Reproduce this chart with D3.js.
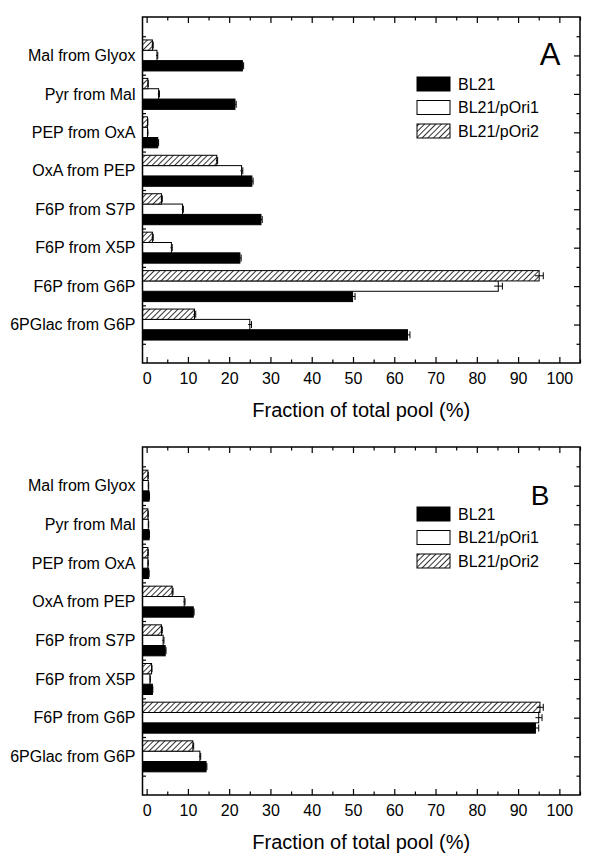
<!DOCTYPE html>
<meta charset="utf-8">
<style>
body { margin: 0; background: #fff; }
text { font-family: "Liberation Sans", Arial, sans-serif; fill: #000; }
.frame { fill: none; stroke: #000; stroke-width: 1.5px; }
.axis path { display: none; }
.axis line { stroke: #000; stroke-width: 1.2px; }
.axis text { font-size: 16px; }
.bar { stroke: #000; stroke-width: 1px; }
.err { stroke: #000; stroke-width: 1px; fill: none; }
</style>
<svg width="600" height="863"></svg>
<script src="https://d3js.org/d3.v7.min.js"></script>
<script>
// categories, top to bottom
var categories = ["Mal from Glyox", "Pyr from Mal", "PEP from OxA", "OxA from PEP",
                  "F6P from S7P", "F6P from X5P", "F6P from G6P", "6PGlac from G6P"];
var strains = ["BL21", "BL21/pOri1", "BL21/pOri2"];
var xTicks = [0, 10, 20, 30, 40, 50, 60, 70, 80, 90, 100];
var xMinor = [5, 15, 25, 35, 45, 55, 65, 75, 85, 95, 105];

// panel A values (%)
var aBL21  = [23.2, 21.4, 2.7, 25.5, 27.7, 22.6, 49.9, 63.2];
var aPOri1 = [2.5, 2.9, 0.2, 23.0, 8.7, 6.0, 85.2, 25.0];
var aPOri2 = [1.4, 0.3, 0.2, 17.0, 3.6, 1.4, 95.1, 11.6];
var aErrBL21  = [0.3, 0.3, 0.2, 0.3, 0.3, 0.3, 0.6, 0.6];
var aErrPOri1 = [0.2, 0.2, 0.1, 0.3, 0.2, 0.2, 1.0, 0.4];
var aErrPOri2 = [0.2, 0.1, 0.1, 0.2, 0.2, 0.2, 1.0, 0.3];

// panel B values (%)
var bBL21  = [0.6, 0.6, 0.5, 11.3, 4.5, 1.4, 94.2, 14.4];
var bPOri1 = [0.4, 0.4, 0.3, 9.1, 4.0, 0.8, 95.0, 12.9];
var bPOri2 = [0.3, 0.3, 0.3, 6.2, 3.6, 1.2, 95.3, 11.2];
var bErrBL21  = [0.1, 0.1, 0.1, 0.2, 0.2, 0.1, 0.8, 0.2];
var bErrPOri1 = [0.1, 0.1, 0.1, 0.2, 0.2, 0.1, 0.8, 0.2];
var bErrPOri2 = [0.1, 0.1, 0.1, 0.2, 0.2, 0.1, 0.8, 0.2];

var svg = d3.select("svg");

var defs = svg.append("defs");
var pat = defs.append("pattern")
    .attr("id", "hatch")
    .attr("patternUnits", "userSpaceOnUse")
    .attr("width", 4)
    .attr("height", 4)
    .attr("patternTransform", "rotate(45)");
pat.append("rect").attr("width", 4).attr("height", 4).attr("fill", "#fff");
pat.append("line")
    .attr("x1", 0).attr("y1", 0).attr("x2", 0).attr("y2", 4)
    .attr("stroke", "#000").attr("stroke-width", 1.6);

var fills = {"BL21": "#000", "BL21/pOri1": "#fff", "BL21/pOri2": "url(#hatch)"};

var x = d3.scaleLinear().domain([-1, 105]).range([142.5, 580]);

function drawPanel(top, bottom, values, errors, letter, letterX, letterY, letterSize) {
  var g = svg.append("g");
  var y = d3.scaleLinear().domain([0, 9]).range([top, bottom]);
  // bars inside a category: pOri2 on top, then pOri1, then BL21
  var sub = d3.scaleBand().domain(["BL21/pOri2", "BL21/pOri1", "BL21"]).range([-15.5, 15.5]);

  // axes with inward ticks
  g.append("g").attr("class", "axis")
      .attr("transform", "translate(0," + bottom + ")")
      .call(d3.axisBottom(x).tickValues(xTicks).tickSize(-6).tickPadding(10));
  g.append("g").attr("class", "axis")
      .attr("transform", "translate(0," + bottom + ")")
      .call(d3.axisBottom(x).tickValues(xMinor).tickSize(-3.5).tickFormat(""));
  g.append("g").attr("class", "axis")
      .attr("transform", "translate(0," + top + ")")
      .call(d3.axisTop(x).tickValues(xTicks).tickSize(-6).tickFormat(""));
  g.append("g").attr("class", "axis")
      .attr("transform", "translate(0," + top + ")")
      .call(d3.axisTop(x).tickValues(xMinor).tickSize(-3.5).tickFormat(""));

  var major = d3.range(1, 9), minor = d3.range(0.5, 9, 1);
  g.append("g").attr("class", "axis")
      .attr("transform", "translate(" + x.range()[0] + ",0)")
      .call(d3.axisLeft(y).tickValues(major).tickSize(-6).tickPadding(7)
        .tickFormat(function(d) { return categories[d - 1]; }));
  g.append("g").attr("class", "axis")
      .attr("transform", "translate(" + x.range()[0] + ",0)")
      .call(d3.axisLeft(y).tickValues(minor).tickSize(-3.5).tickFormat(""));
  g.append("g").attr("class", "axis")
      .attr("transform", "translate(" + x.range()[1] + ",0)")
      .call(d3.axisRight(y).tickValues(major).tickSize(-6).tickFormat(""));
  g.append("g").attr("class", "axis")
      .attr("transform", "translate(" + x.range()[1] + ",0)")
      .call(d3.axisRight(y).tickValues(minor).tickSize(-3.5).tickFormat(""));

  var rows = [];
  strains.forEach(function(s, k) {
    values[k].forEach(function(v, i) {
      rows.push({strain: s, cat: i, value: v, err: errors[k][i]});
    });
  });

  g.selectAll(".bar")
    .data(rows)
    .enter().append("rect")
      .attr("class", "bar")
      .attr("x", x.range()[0])
      .attr("y", function(d) { return y(d.cat + 1) + sub(d.strain); })
      .attr("width", function(d) { return x(d.value) - x.range()[0]; })
      .attr("height", sub.bandwidth())
      .attr("fill", function(d) { return fills[d.strain]; });

  var eb = g.selectAll(".errg")
    .data(rows)
    .enter().append("g")
      .attr("transform", function(d) {
        return "translate(0," + (y(d.cat + 1) + sub(d.strain) + sub.bandwidth() / 2) + ")";
      });
  eb.append("path")
      .attr("class", "err")
      .attr("d", function(d) {
        var x0 = x(d.value - d.err), x1 = x(d.value + d.err);
        return "M" + x0 + ",0H" + x1 + "M" + x1 + ",-3.5V3.5";
      });

  g.append("rect").attr("class", "frame")
      .attr("x", x.range()[0]).attr("y", top)
      .attr("width", x.range()[1] - x.range()[0])
      .attr("height", bottom - top);

  // x axis title
  g.append("text")
      .attr("x", (x.range()[0] + x.range()[1]) / 2)
      .attr("y", bottom + 54)
      .attr("text-anchor", "middle")
      .style("font-size", "20px")
      .text("Fraction of total pool (%)");

  // panel letter
  g.append("text")
      .attr("x", letterX)
      .attr("y", top + letterY)
      .attr("text-anchor", "middle")
      .style("font-size", letterSize + "px")
      .text(letter);

  // legend
  var leg = g.selectAll(".leg")
    .data(strains)
    .enter().append("g")
      .attr("transform", function(d, i) { return "translate(417," + (top + 67 + i * 23.5) + ")"; });
  leg.append("rect")
      .attr("class", "bar")
      .attr("y", -7)
      .attr("width", 33)
      .attr("height", 14)
      .attr("fill", function(d) { return fills[d]; });
  leg.append("text")
      .attr("x", 41)
      .attr("dy", "0.36em")
      .style("font-size", "16px")
      .text(function(d) { return d; });
}

drawPanel(17, 363, [aBL21, aPOri1, aPOri2], [aErrBL21, aErrPOri1, aErrPOri2], "A", 550, 48, 31);
drawPanel(447, 795, [bBL21, bPOri1, bPOri2], [bErrBL21, bErrPOri1, bErrPOri2], "B", 540, 58, 28);
</script>
